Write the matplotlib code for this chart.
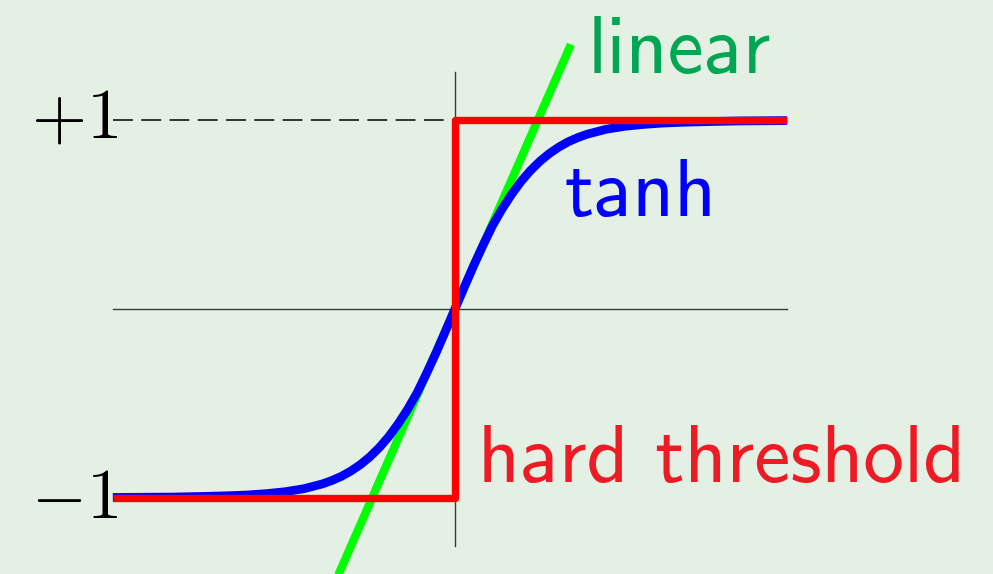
import matplotlib
matplotlib.use('Agg')
import matplotlib.pyplot as plt

plt.rcParams['mathtext.fontset'] = 'cm'

# curves (data units, y in [-1, 1])
tanh_x = [-1.81, -1.5, -1.35, -1.2, -1.1, -1.0, -0.9, -0.8, -0.7, -0.65, -0.6,
          -0.55, -0.5, -0.45, -0.4, -0.35, -0.3, -0.25, -0.2, -0.15, -0.1, -0.05,
          0.0, 0.05, 0.1, 0.15, 0.2, 0.25, 0.3, 0.35, 0.4, 0.45, 0.5, 0.55, 0.6,
          0.65, 0.7, 0.8, 0.9, 1.0, 1.1, 1.2, 1.35, 1.5, 1.757]
tanh_y = [-0.997, -0.995, -0.992, -0.988, -0.984, -0.977, -0.967, -0.951, -0.925,
          -0.907, -0.885, -0.857, -0.823, -0.782, -0.733, -0.675, -0.607, -0.53,
          -0.443, -0.34, -0.232, -0.117, 0.0, 0.117, 0.232, 0.34, 0.443, 0.53,
          0.607, 0.675, 0.733, 0.782, 0.823, 0.857, 0.885, 0.907, 0.925, 0.951,
          0.967, 0.977, 0.984, 0.988, 0.992, 0.995, 0.997]

linear_x = [-0.66, 0.614]
linear_y = [-1.505, 1.40]

threshold_x = [-1.81, 0.0, 0.0, 1.757]
threshold_y = [-1.0, -1.0, 1.0, 1.0]

axis_x = [-1.81, 1.757]
axis_y = [-1.254, 1.254]

y_labels = [r'$+1$', r'$-1$']
bg = '#e5f0e5'

fig = plt.figure(figsize=(9.93, 5.74), dpi=100, facecolor=bg)
ax = fig.add_axes([0, 0, 1, 1], facecolor=bg)
ax.set_xlim(-2.407, 2.847)
ax.set_ylim(-1.402, 1.635)
ax.set_axis_off()

# thin axes
ax.plot(axis_x, [0, 0], color='#3a3a3a', lw=1.0, zorder=1)
ax.plot([0, 0], axis_y, color='#3a3a3a', lw=1.0, zorder=1)

# dashed guide at +1
ax.plot([axis_x[0], 0], [1, 1], color='black', lw=1.1, dashes=(13, 5.5), zorder=1)

ax.plot(linear_x, linear_y, color='#00ff00', lw=6.0, solid_capstyle='butt', zorder=2)
ax.plot(tanh_x, tanh_y, color='#0000ff', lw=6.3, solid_capstyle='butt',
        solid_joinstyle='round', zorder=3)
ax.plot(threshold_x, threshold_y, color='#ff0000', lw=5.3,
        solid_capstyle='butt', solid_joinstyle='round', zorder=4)

# y labels
ax.text(-1.783, 0.905, y_labels[0], fontsize=51, ha='right', va='baseline')
ax.text(-1.783, -1.106, y_labels[1], fontsize=51, ha='right', va='baseline')

# curve labels
ax.text(0.703, 1.249, 'linear', family='cmss10', fontsize=58.5,
        color='#00a651', ha='left', va='baseline')
ax.text(0.58, 0.492, 'tanh', family='cmss10', fontsize=58.5,
        color='#0000ff', ha='left', va='baseline')
ax.text(0.12, -0.915, 'hard threshold', family='cmss10', fontsize=58.5,
        color='#ed1c24', ha='left', va='baseline')

fig.savefig('out.png', dpi=100, facecolor=bg)
